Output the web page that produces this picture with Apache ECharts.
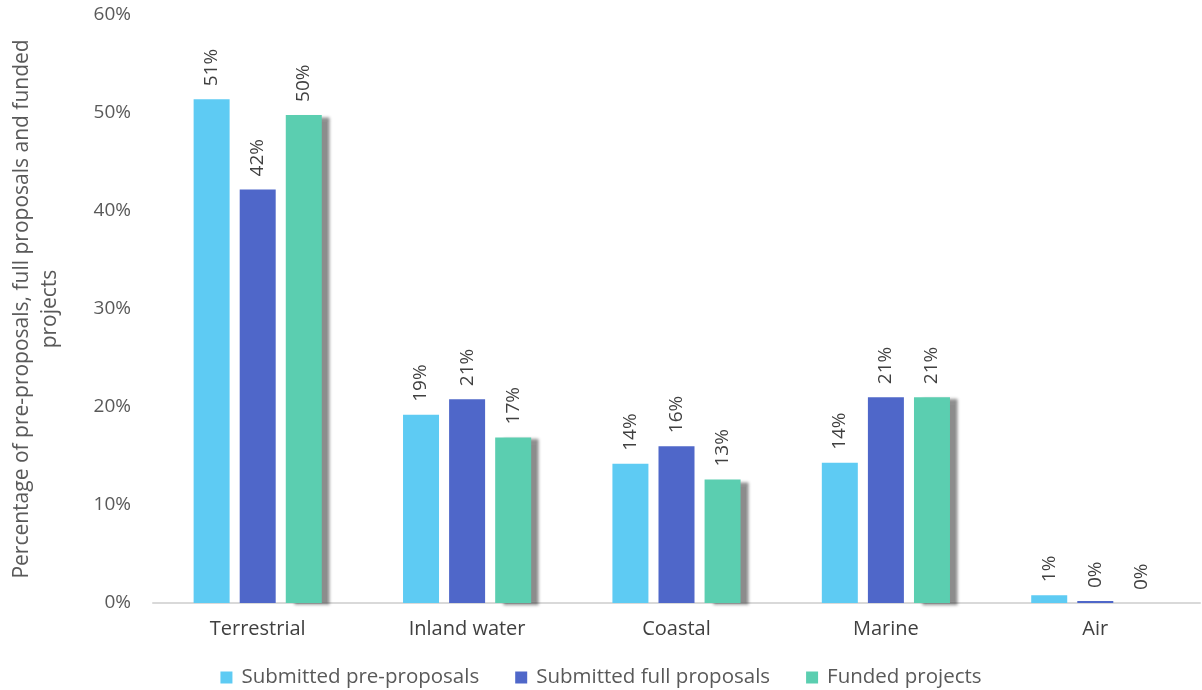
<!DOCTYPE html>
<html>
<head>
<meta charset="utf-8">
<script src="https://cdn.jsdelivr.net/npm/echarts@6/dist/echarts.min.js"></script>
<style>
html,body{margin:0;padding:0;background:#fff;}
#chart{width:1202px;height:690px;}
</style>
</head>
<body>
<div id="chart"></div>
<script>
const categories = ['Terrestrial', 'Inland water', 'Coastal', 'Marine', 'Air'];
const seriesNames = ['Submitted pre-proposals', 'Submitted full proposals', 'Funded projects'];
const preProposals = [51.4, 19.2, 14.2, 14.3, 0.8];
const fullProposals = [42.2, 20.8, 16.0, 21.0, 0.2];
const fundedProjects = [49.8, 16.9, 12.6, 21.0, 0.0];
const yTicks = [0, 10, 20, 30, 40, 50, 60];
const colors = ['#5ECBF3', '#4F67C9', '#5BCEB0'];

const FONT = '"Open Sans", "Noto Sans", sans-serif';
const chart = echarts.init(document.getElementById('chart'));

const labelCfg = {
  show: true,
  position: 'top',
  rotate: 90,
  align: 'left',
  verticalAlign: 'middle',
  distance: 13,
  fontFamily: FONT,
  fontSize: 19,
  color: '#404040',
  formatter: p => Math.round(p.value) + '%'
};

function mk(name, data, color, shadow) {
  const s = {
    name: name,
    type: 'bar',
    data: data,
    barWidth: 36,
    barGap: '28%',
    itemStyle: { color: color },
    label: labelCfg
  };
  if (shadow) {
    s.itemStyle.shadowColor = 'rgba(0,0,0,0.45)';
    s.itemStyle.shadowOffsetX = 8;
    s.itemStyle.shadowOffsetY = 2;
    s.itemStyle.shadowBlur = 3;
  }
  return s;
}

chart.setOption({
  backgroundColor: '#ffffff',
  animation: false,
  grid: { left: 153, right: 2, top: 15, bottom: 87, containLabel: false, outerBoundsMode: 'none' },
  legend: {
    bottom: -3,
    left: 'center',
    itemWidth: 12,
    itemHeight: 12,
    itemGap: 36,
    icon: 'rect',
    textStyle: { fontFamily: FONT, fontSize: 20.5, color: '#595959', padding: [0, 0, 0, 4] },
    data: seriesNames
  },
  xAxis: {
    type: 'category',
    data: categories,
    axisLine: { lineStyle: { color: '#d9d9d9', width: 2 } },
    axisTick: { show: false },
    axisLabel: { fontFamily: FONT, fontSize: 20, color: '#404040', margin: 16 }
  },
  yAxis: {
    type: 'value',
    min: yTicks[0],
    max: yTicks[yTicks.length - 1],
    interval: 10,
    splitLine: { show: false },
    axisLine: { show: false },
    axisTick: { show: false },
    axisLabel: { fontFamily: FONT, fontSize: 19, color: '#595959', margin: 22, formatter: v => v + '%' },
    name: 'Percentage of pre-proposals, full proposals and funded\nprojects',
    nameLocation: 'middle',
    nameGap: 89,
    nameRotate: 90,
    nameTextStyle: { fontFamily: FONT, fontSize: 21, color: '#595959', lineHeight: 28, align: 'center' }
  },
  series: [
    mk(seriesNames[0], preProposals, colors[0], false),
    mk(seriesNames[1], fullProposals, colors[1], false),
    mk(seriesNames[2], fundedProjects, colors[2], true)
  ]
});
</script>
</body>
</html>
